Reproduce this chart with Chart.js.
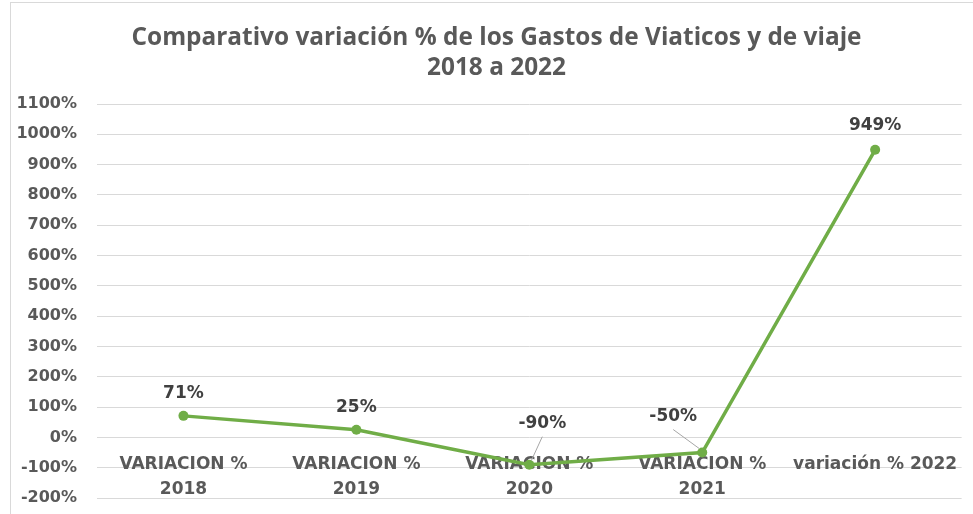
<html>

<head>
    <title>Comparativo variacion</title>
    <script src="https://cdn.jsdelivr.net/npm/chart.js@4.4.0/dist/chart.umd.min.js"></script>
    <style>
        body { margin: 0; background: #fff; }
        #wrap { position: relative; width: 973px; height: 514px; }
        #frame { position: absolute; left: 10px; top: 2px; right: 0; bottom: 0; border-left: 1px solid #d9d9d9; border-top: 1px solid #d9d9d9; }
        #varChart { position: absolute; left: 0; top: 0; }
    </style>
</head>

<body>
    <div id="wrap">
        <div id="frame"></div>
        <canvas id="varChart" width="973" height="514"></canvas>
    </div>
    <script>
        var categories = [
            ["VARIACION %", "2018"],
            ["VARIACION %", "2019"],
            ["VARIACION %", "2020"],
            ["VARIACION %", "2021"],
            "variación % 2022"
        ];
        var variacion = [71, 25, -90, -50, 949];
        var yTicks = [-200, -100, 0, 100, 200, 300, 400, 500, 600, 700, 800, 900, 1000, 1100];

        // label offsets (dx, dy) from each point, leader line where moved
        var labelOffsets = [[0, -22], [0, -22], [13, -41], [-29, -36], [0, -24]];

        var pointLabels = {
            id: 'pointLabels',
            afterLayout: function(chart) {
                // excel centres the title a bit right of the canvas middle
                chart.titleBlock.left += 14;
                chart.titleBlock.right += 14;
            },
            afterDatasetsDraw: function(chart) {
                var ctx = chart.ctx;
                var meta = chart.getDatasetMeta(0);
                ctx.save();
                ctx.font = 'bold 17px "DejaVu Sans"';
                ctx.textAlign = 'center';
                ctx.textBaseline = 'middle';
                meta.data.forEach(function(pt, i) {
                    var off = labelOffsets[i];
                    var lx = pt.x + off[0];
                    var ly = pt.y + off[1];
                    if (Math.abs(off[1]) > 30) {
                        ctx.strokeStyle = '#a6a6a6';
                        ctx.lineWidth = 1;
                        ctx.beginPath();
                        ctx.moveTo(lx, ly + 13);
                        ctx.lineTo(pt.x - (off[0] < 0 ? 3 : -2), pt.y - 4);
                        ctx.stroke();
                    }
                    ctx.fillStyle = '#404040';
                    ctx.fillText(variacion[i] + '%', lx, ly);
                });
                ctx.restore();
            }
        };

        var ctx1 = document.getElementById("varChart");
        var varChart = new Chart(ctx1, {
            type: 'line',
            data: {
                labels: categories,
                datasets: [{
                    label: 'Variación %',
                    data: variacion,
                    borderColor: '#70AD47',
                    backgroundColor: '#70AD47',
                    borderWidth: 3.5,
                    pointRadius: 5,
                    pointHoverRadius: 5,
                    pointBackgroundColor: '#70AD47',
                    pointBorderWidth: 0,
                    tension: 0
                }]
            },
            options: {
                responsive: false,
                animation: false,
                layout: { padding: { left: 0, right: 8, top: 0, bottom: 16 } },
                plugins: {
                    legend: { display: false },
                    tooltip: { enabled: false },
                    title: {
                        display: true,
                        text: ['Comparativo variación % de los Gastos de Viaticos y de viaje', '2018 a 2022'],
                        color: '#595959',
                        font: { family: '"Open Sans"', size: 24.4, weight: 'bold', lineHeight: 1.23 },
                        padding: { top: 23, bottom: 21 }
                    }
                },
                scales: {
                    x: {
                        position: { y: 0 },
                        offset: true,
                        afterFit: function(axis) { axis.height = 0; },
                        grid: { display: false, drawTicks: false },
                        border: { display: false },
                        ticks: {
                            color: '#595959',
                            padding: 15,
                            maxRotation: 0,
                            autoSkip: false,
                            font: { family: '"DejaVu Sans"', size: 17, weight: 'bold', lineHeight: 1.45 }
                        }
                    },
                    y: {
                        min: -200,
                        max: 1100,
                        afterBuildTicks: function(axis) {
                            axis.ticks = yTicks.map(function(v) { return { value: v }; });
                        },
                        afterFit: function(axis) {
                            axis.width = 97;
                            axis.paddingTop = 0;
                            axis.paddingBottom = 0;
                        },
                        grid: { color: '#d9d9d9', lineWidth: 1, drawTicks: false },
                        border: { display: false },
                        ticks: {
                            color: '#595959',
                            padding: 20,
                            font: { family: '"DejaVu Sans"', size: 16, weight: 'bold' },
                            callback: function(v) { return v + '%'; }
                        }
                    }
                }
            },
            plugins: [pointLabels]
        });
    </script>
</body>

</html>
